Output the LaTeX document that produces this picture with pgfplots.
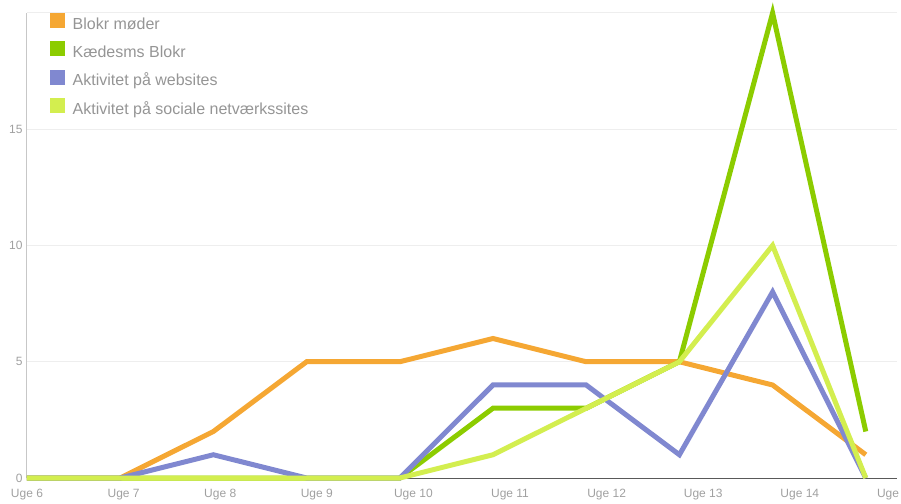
\documentclass[border=0pt]{standalone}
\usepackage{pgfplots}
\pgfplotsset{compat=1.18}
\usepackage{fontspec}
\setmainfont{Liberation Sans}
\definecolor{cOrange}{HTML}{F5A733}
\definecolor{cGreen}{HTML}{8CCC00}
\definecolor{cBlue}{HTML}{8088D0}
\definecolor{cLight}{HTML}{D3EE4F}
\definecolor{tickgray}{HTML}{A0A0A0}
\definecolor{leggray}{HTML}{959595}
\definecolor{gridgray}{HTML}{EEEEEE}
\begin{document}
\begin{tikzpicture}
\path[use as bounding box, clip] (-27pt,-25pt) rectangle (874pt,478pt);
\begin{axis}[
  at={(0pt,0pt)}, anchor=south west,
  scale only axis,
  width=870pt, height=465pt,
  xmin=0, xmax=9.335,
  ymin=0, ymax=20,
  axis x line*=bottom, axis y line*=left,
  x axis line style={draw=black!65, line width=1pt, -},
  y axis line style={draw=black!22, line width=1pt, -},
  xtick={0,1.0365,2.073,3.1095,4.146,5.1825,6.219,7.2555,8.292,9.3285},
  xticklabels={Uge 6,Uge 7,Uge 8,Uge 9,Uge 10,Uge 11,Uge 12,Uge 13,Uge 14,Uge 15},
  ytick={0,5,10,15},
  extra y ticks={20}, extra y tick labels={},
  extra y tick style={grid=major, major grid style={gridgray, line width=1pt}},
  ymajorgrids, major grid style={gridgray, line width=1pt},
  major tick length=0pt,
  tick label style={font=\fontsize{12}{12}\selectfont, text=tickgray},
  /pgf/number format/assume math mode=true,
  xticklabel style={yshift=-8pt},
  yticklabel style={xshift=-1pt},
  legend style={draw=none, fill=none, at={(0,1)}, anchor=north west,
    xshift=23pt, yshift=0pt, inner sep=0pt, row sep=7.3pt,
    font=\fontsize{16}{16}\selectfont, text=leggray,
    nodes={inner sep=1pt, text height=12pt, text depth=4pt}},
  legend cell align=left,
  legend image code/.code={\fill[#1, draw=none] (0pt,-3pt) rectangle (15pt,12pt); \path (19pt,0pt);},
  every axis plot/.append style={line width=5pt, line cap=butt, line join=miter},
  clip=false,
]
\addplot[cOrange] coordinates {(0,0) (1,0) (2,2) (3,5) (4,5) (5,6) (6,5) (7,5) (8,4) (9,1)};
\addlegendentry{Blokr møder}
\addplot[cGreen] coordinates {(0,0) (1,0) (2,0) (3,0) (4,0) (5,3) (6,3) (7,5) (8,20) (9,2)};
\addlegendentry{Kædesms Blokr}
\addplot[cBlue] coordinates {(0,0) (1,0) (2,1) (3,0) (4,0) (5,4) (6,4) (7,1) (8,8) (9,0)};
\addlegendentry{Aktivitet på websites}
\addplot[cLight] coordinates {(0,0) (1,0) (2,0) (3,0) (4,0) (5,1) (6,3) (7,5) (8,10) (9,0)};
\addlegendentry{Aktivitet på sociale netværkssites}
\end{axis}
\end{tikzpicture}
\end{document}
